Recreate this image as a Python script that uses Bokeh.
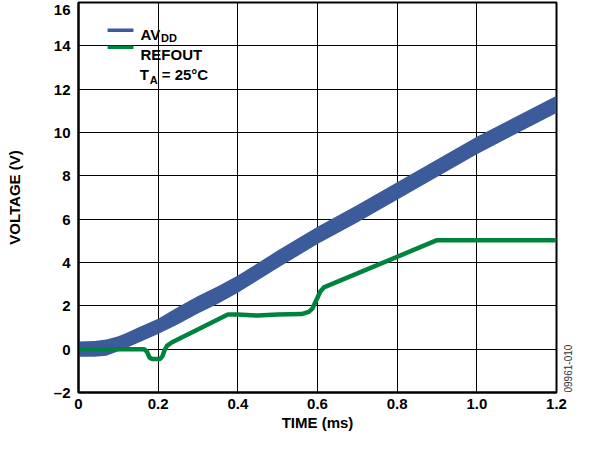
import math
from bokeh.plotting import figure
from bokeh.models import (Range1d, FixedTicker, PrintfTickFormatter, Label,
                          BoxAnnotation, ColumnDataSource, LinearAxis)
from bokeh.embed import file_html
from bokeh.resources import INLINE

# ---------------- data ----------------
time_avdd = [0.0, 0.04, 0.07, 0.10, 0.12, 0.15, 0.20, 0.25, 0.30, 0.35, 0.40,
             0.50, 0.60, 0.70, 0.80, 0.90, 1.00, 1.10, 1.20]
avdd_high = [0.35, 0.38, 0.45, 0.60, 0.75, 1.00, 1.40, 1.95, 2.45, 2.90, 3.40,
             4.55, 5.65, 6.65, 7.70, 8.75, 9.80, 10.75, 11.70]
avdd_low = [-0.35, -0.35, -0.30, -0.10, 0.05, 0.30, 0.70, 1.15, 1.65, 2.10, 2.60,
            3.75, 4.85, 5.85, 6.90, 7.95, 9.00, 9.95, 10.90]

time_ref = [0.0, 0.165, 0.172, 0.178, 0.185, 0.205, 0.211, 0.216, 0.222, 0.235,
            0.375, 0.40, 0.45, 0.50, 0.56, 0.578, 0.587, 0.599, 0.607, 0.616,
            0.625, 0.90, 1.20]
refout = [0.0, 0.0, -0.12, -0.38, -0.45, -0.45, -0.32, -0.05, 0.15, 0.32,
          1.60, 1.60, 1.55, 1.60, 1.62, 1.72, 1.87, 2.34, 2.66, 2.85,
          2.92, 5.03, 5.03]

x_ticks = [0, 0.2, 0.4, 0.6, 0.8, 1.0, 1.2]
y_ticks = [-2, 0, 2, 4, 6, 8, 10, 12, 14, 16]

BLUE = "#3B5B9A"
GREEN = "#00843D"
FONT = "Liberation Sans"

src_avdd = ColumnDataSource(dict(t=time_avdd, lo=avdd_low, hi=avdd_high))
src_ref = ColumnDataSource(dict(t=time_ref, v=refout))

p = figure(width=580, height=433, output_backend="svg", toolbar_location=None,
           x_range=Range1d(0, 1.2), y_range=Range1d(-2, 16),
           min_border_left=78, min_border_top=2, min_border_right=24,
           min_border_bottom=41)
p.background_fill_color = "white"
p.border_fill_color = "white"
p.outline_line_color = "black"
p.outline_line_width = 2

p.varea(x="t", y1="lo", y2="hi", source=src_avdd, fill_color=BLUE)
p.line(x="t", y="v", source=src_ref, line_color=GREEN, line_width=4.5)

# axes
for ax in (p.xaxis[0], p.yaxis[0]):
    ax.axis_line_color = "black"
    ax.axis_line_width = 2
    ax.major_tick_out = 0
    ax.major_tick_in = 0
    ax.minor_tick_out = 0
    ax.minor_tick_in = 0
    ax.major_label_text_font = FONT
    ax.major_label_text_font_style = "bold"
    ax.major_label_text_font_size = "15px"
    ax.major_label_text_color = "black"
    ax.major_label_text_line_height = 1.0
    ax.axis_label_text_font = FONT
    ax.axis_label_text_font_style = "bold"
    ax.axis_label_text_font_size = "15px"
    ax.axis_label_text_color = "black"
    ax.axis_label_text_line_height = 1.0

p.xaxis.ticker = FixedTicker(ticks=x_ticks)
p.xaxis.formatter = PrintfTickFormatter(format="%.1f")
p.xaxis.major_label_overrides = {0: "0"}
p.xaxis.major_label_standoff = 6
p.xaxis.axis_label = "TIME (ms)"
p.xaxis.axis_label_standoff = 2

p.yaxis.ticker = FixedTicker(ticks=y_ticks)
p.yaxis.major_label_overrides = {-2: "\u20132"}
p.yaxis.major_label_standoff = 8
p.yaxis.axis_label = "VOLTAGE (V)"
p.yaxis.axis_label_standoff = 28

p.xgrid.grid_line_color = "black"
p.ygrid.grid_line_color = "black"
p.xgrid.grid_line_width = 1
p.ygrid.grid_line_width = 1

# figure code on the right, as the label of a bare right-hand axis
code_axis = LinearAxis(ticker=FixedTicker(ticks=[]),
                       axis_line_color=None, major_tick_out=0, major_tick_in=0,
                       minor_tick_out=0, minor_tick_in=0, major_label_standoff=0,
                       axis_label="09961-010", axis_label_standoff=11,
                       axis_label_orientation=math.pi / 2,
                       axis_label_text_font=FONT,
                       axis_label_text_font_style="normal",
                       axis_label_text_font_size="10px",
                       axis_label_text_color="#333333",
                       axis_label_text_line_height=1.0)
try:
    code_axis.axis_label_align = "start"
except AttributeError:
    pass
p.add_layout(code_axis, "right")


def lab(x, y, text, size, **kw):
    l = Label(x=x, y=y, text=text, text_font=FONT, text_font_style="bold",
              text_font_size=size, text_color="black",
              text_baseline="alphabetic", **kw)
    p.add_layout(l)


# legend keys and texts
p.add_layout(BoxAnnotation(left=0.073, right=0.138, bottom=14.64, top=14.80,
                           fill_color=BLUE, fill_alpha=1, line_color=None))
p.add_layout(BoxAnnotation(left=0.073, right=0.138, bottom=13.85, top=14.01,
                           fill_color=GREEN, fill_alpha=1, line_color=None))
lab(0.1556, 14.51, "AV", "15px")
lab(0.207, 14.35, "DD", "11px")
lab(0.1556, 13.61, "REFOUT", "15px")
lab(0.154, 12.70, "T", "15px")
lab(0.179, 12.42, "A", "11px")
lab(0.209, 12.70, "= 25\u00b0C", "15px")

open("out.html", "w").write(file_html(p, INLINE))
